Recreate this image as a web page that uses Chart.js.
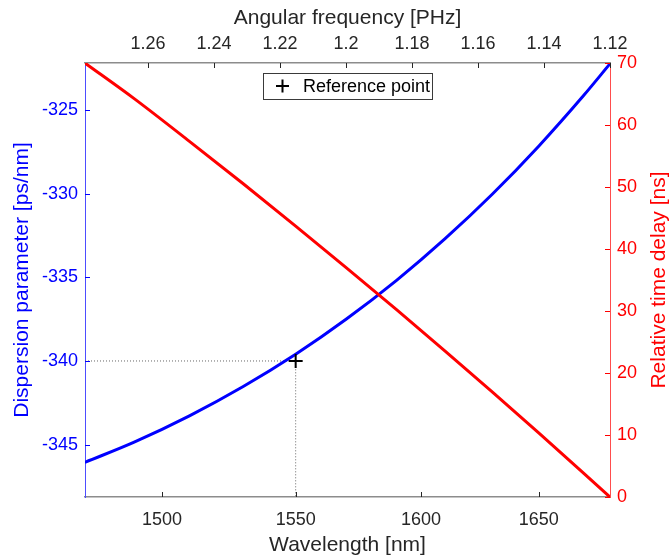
<!DOCTYPE html>
<html>
<head>
<meta charset="utf-8">
<script src="https://cdn.jsdelivr.net/npm/chart.js@4.4.1/dist/chart.umd.min.js"></script>
<style>
  html, body { margin: 0; padding: 0; background: #fff; }
  #wrap { width: 671px; height: 558px; position: relative; }
</style>
</head>
<body>
<div id="wrap"><canvas id="dispChart"></canvas></div>
<script>
// omega [PHz] = 2*pi*c / lambda[nm]
const TWO_PI_C = 2 * Math.PI * 299.792458;

// curve samples
const wavelength = [1472.6, 1490, 1510, 1530, 1550, 1570, 1590, 1610, 1630, 1650, 1670, 1681.8];
const dispersion = [-346.06, -344.85, -343.28, -341.53, -339.6, -337.48, -335.18, -332.69, -330.02, -327.16, -324.12, -322.24];
const delay = [70.0, 64.25, 57.36, 50.52, 43.70, 36.93, 30.21, 23.53, 16.90, 10.33, 3.81, 0];

// reference point
const refWavelength = 1550;
const refDispersion = -340;

// axes
const freqRange = [1.12, 1.2791];
const dispRange = [-348.13, -322.19];
const delayRange = [0, 70];
const wavelengthTicks = [1500, 1550, 1600, 1650];
const freqTicks = [1.26, 1.24, 1.22, 1.2, 1.18, 1.16, 1.14, 1.12];
const dispTicks = [-345, -340, -335, -330, -325];
const delayTicks = [0, 10, 20, 30, 40, 50, 60, 70];

const toOmega = l => TWO_PI_C / l;
const FONT = "'Liberation Sans', Arial, Helvetica, sans-serif";
const AX_GRAY = "#262626";

const blueData = wavelength.map((l, i) => ({ x: toOmega(l), y: dispersion[i] }));
const redData = wavelength.map((l, i) => ({ x: toOmega(l), y: delay[i] }));
const refX = toOmega(refWavelength);
const guideData = [
    { x: freqRange[1], y: refDispersion },
    { x: refX, y: refDispersion },
    { x: refX, y: dispRange[0] }
];

// MATLAB style inward ticks, right-hand title and the legend box
const extras = {
    id: "extras",
    afterDraw(chart) {
        const ctx = chart.ctx;
        const a = chart.chartArea;
        const len = 5;
        const sides = [
            ["x", AX_GRAY], ["x2", AX_GRAY], ["y", "#0000ff"], ["y2", "#ff0000"]
        ];
        ctx.save();
        ctx.lineWidth = 1;
        sides.forEach(([id, col]) => {
            const s = chart.scales[id];
            ctx.strokeStyle = col;
            s.ticks.forEach(t => {
                const p = Math.round(s.getPixelForValue(t.value)) + 0.5;
                ctx.beginPath();
                if (id === "x") { ctx.moveTo(p, a.bottom); ctx.lineTo(p, a.bottom - len); }
                if (id === "x2") { ctx.moveTo(p, a.top); ctx.lineTo(p, a.top + len); }
                if (id === "y") { ctx.moveTo(a.left, p); ctx.lineTo(a.left + len, p); }
                if (id === "y2") { ctx.moveTo(a.right, p); ctx.lineTo(a.right - len, p); }
                ctx.stroke();
            });
        });

        // right axis title, reading bottom to top like the left one
        ctx.fillStyle = "#ff0000";
        ctx.font = "21px " + FONT;
        ctx.textAlign = "center";
        ctx.textBaseline = "middle";
        ctx.translate(659, (a.top + a.bottom) / 2);
        ctx.rotate(-Math.PI / 2);
        ctx.fillText("Relative time delay [ns]", 0, 0);
        ctx.restore();

        // legend
        ctx.save();
        ctx.fillStyle = "#ffffff";
        ctx.fillRect(263, 73, 169, 26);
        ctx.strokeStyle = "#3a3a3a";
        ctx.lineWidth = 1;
        ctx.strokeRect(263.5, 73.5, 169, 26);
        ctx.strokeStyle = "#000";
        ctx.lineWidth = 2;
        ctx.beginPath();
        ctx.moveTo(276, 86); ctx.lineTo(289, 86);
        ctx.moveTo(282.5, 79.5); ctx.lineTo(282.5, 92.5);
        ctx.stroke();
        ctx.fillStyle = "#000";
        ctx.font = "18px " + FONT;
        ctx.textAlign = "left";
        ctx.textBaseline = "middle";
        ctx.fillText("Reference point", 303, 87);
        ctx.restore();
    }
};

const ctx = document.getElementById("dispChart").getContext("2d");
new Chart(ctx, {
    type: "line",
    data: {
        datasets: [
            {
                label: "Reference point",
                data: [{ x: refX, y: refDispersion }],
                xAxisID: "x", yAxisID: "y",
                showLine: false,
                pointStyle: "cross",
                pointRadius: 7,
                pointBorderWidth: 2,
                borderColor: "#000",
                order: 0
            },
            {
                label: "Relative time delay",
                data: redData,
                xAxisID: "x", yAxisID: "y2",
                borderColor: "#ff0000",
                borderWidth: 3,
                pointRadius: 0,
                cubicInterpolationMode: "monotone",
                order: 1
            },
            {
                label: "Dispersion parameter",
                data: blueData,
                xAxisID: "x", yAxisID: "y",
                borderColor: "#0000ff",
                borderWidth: 3,
                pointRadius: 0,
                cubicInterpolationMode: "monotone",
                order: 2
            },
            {
                label: "guide",
                data: guideData,
                xAxisID: "x", yAxisID: "y",
                borderColor: "#666666",
                borderWidth: 1,
                borderDash: [1, 2],
                pointRadius: 0,
                tension: 0,
                order: 3
            }
        ]
    },
    options: {
        responsive: true,
        maintainAspectRatio: false,
        animation: false,
        layout: { padding: 0 },
        plugins: {
            legend: { display: false },
            tooltip: { enabled: false }
        },
        scales: {
            x: {
                type: "linear",
                position: "bottom",
                reverse: true,
                min: freqRange[0], max: freqRange[1],
                afterFit: s => { s.height = 61; },
                afterBuildTicks: s => { s.ticks = wavelengthTicks.map(l => ({ value: toOmega(l) })); },
                grid: { drawOnChartArea: false, drawTicks: false },
                border: { color: "#8c8c8c", width: 1.5 },
                ticks: {
                    color: AX_GRAY, padding: 12, maxRotation: 0, autoSkip: false,
                    font: { family: FONT, size: 18 },
                    callback: v => String(Math.round(TWO_PI_C / v))
                },
                title: {
                    display: true, text: "Wavelength [nm]", color: AX_GRAY,
                    font: { family: FONT, size: 21 }, padding: { top: 0, bottom: 0 }
                }
            },
            x2: {
                type: "linear",
                position: "top",
                reverse: true,
                min: freqRange[0], max: freqRange[1],
                afterFit: s => { s.height = 63; },
                afterBuildTicks: s => { s.ticks = freqTicks.map(v => ({ value: v })); },
                grid: { drawOnChartArea: false, drawTicks: false },
                border: { color: "#8c8c8c", width: 1.5 },
                ticks: {
                    color: AX_GRAY, padding: 8, maxRotation: 0, autoSkip: false,
                    font: { family: FONT, size: 18 },
                    callback: v => String(v)
                },
                title: {
                    display: true, text: "Angular frequency [PHz]", color: AX_GRAY,
                    font: { family: FONT, size: 21 }, padding: { top: 6, bottom: 0 }
                }
            },
            y: {
                type: "linear",
                position: "left",
                min: dispRange[0], max: dispRange[1],
                afterFit: s => { s.width = 85; },
                afterBuildTicks: s => { s.ticks = dispTicks.map(v => ({ value: v })); },
                grid: { drawOnChartArea: false, drawTicks: false },
                border: { color: "#4d4dff", width: 1 },
                ticks: {
                    color: "#0000ff", padding: 7, autoSkip: false,
                    font: { family: FONT, size: 18 }
                },
                title: {
                    display: true, text: "Dispersion parameter [ps/nm]", color: "#0000ff",
                    font: { family: FONT, size: 21 }, padding: { top: 10, bottom: 0 }
                }
            },
            y2: {
                type: "linear",
                position: "right",
                min: delayRange[0], max: delayRange[1],
                afterFit: s => { s.width = 61; },
                afterBuildTicks: s => { s.ticks = delayTicks.map(v => ({ value: v })); },
                grid: { drawOnChartArea: false, drawTicks: false },
                border: { color: "#ff4d4d", width: 1 },
                ticks: {
                    color: "#ff0000", padding: 7, autoSkip: false,
                    font: { family: FONT, size: 18 }
                },
                title: { display: false }
            }
        }
    },
    plugins: [extras]
});
</script>
</body>
</html>
